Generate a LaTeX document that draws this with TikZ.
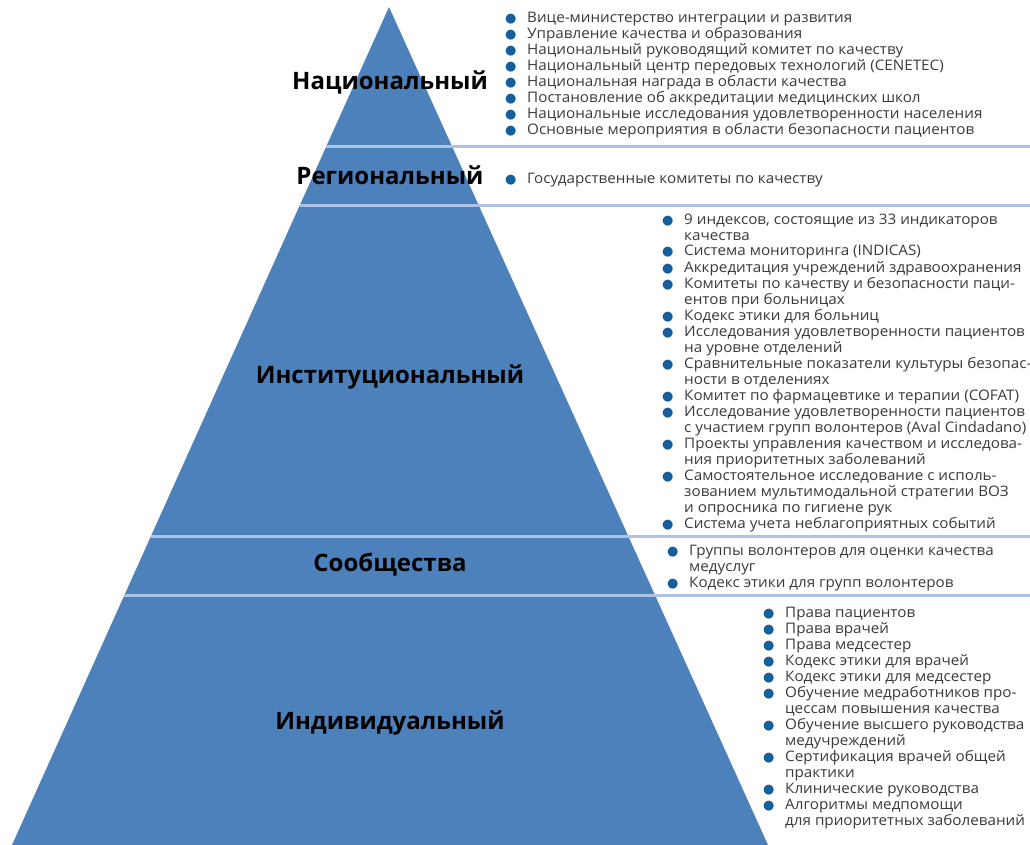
\documentclass[tikz,border=0pt]{standalone}
\usepackage{fontspec}
\usepackage{array}
\usetikzlibrary{calc}
\setmainfont{Open Sans}
\newfontfamily\bodyfont{Open Sans}[FakeStretch=1.05]
\newfontfamily\dejavu{DejaVu Sans}
\definecolor{pyr}{HTML}{4D81BC}
\definecolor{sepline}{HTML}{AEC2E6}
\definecolor{bulc}{HTML}{155E9C}
\definecolor{bodytxt}{HTML}{3A3A3A}
\newcommand{\bu}{\makebox[22pt][l]{\raisebox{0pt}{\color{bulc}\dejavu\fontsize{13}{13}\selectfont ●}}}
\newcommand{\nb}{\makebox[22pt][l]{}}
\newcommand{\lfont}{\bodyfont\fontsize{14.5}{16}\selectfont}
\tikzset{
  lvl/.style={anchor=base, inner sep=0, font=\fontsize{24}{28}\selectfont\bfseries, text=black},
  lst/.style={anchor=base west, inner sep=0, text=bodytxt},
  sep/.style={draw=sepline, line width=3pt}
}
\begin{document}
\begin{tikzpicture}[x=1pt,y=-1pt]
\useasboundingbox (0,0) rectangle (1030,845);
\coordinate (apex) at (389,7);
\coordinate (bl) at (12,845);
\coordinate (br) at (768,845);
\fill[pyr] (apex) -- (br) -- (bl) -- cycle;
% separator lines
\coordinate (s1) at ($(apex)!0.1659!(bl)$);
\coordinate (s2) at ($(apex)!0.2363!(bl)$);
\coordinate (s3) at ($(apex)!0.6313!(bl)$);
\coordinate (s4) at ($(apex)!0.7017!(bl)$);
\coordinate (e1) at (1030,146);
\coordinate (e2) at (1030,205);
\coordinate (e3) at (1030,536);
\coordinate (e4) at (1030,595);
\draw[sep] (s1) -- (s1 -| e1);
\draw[sep] (s2) -- (s2 -| e2);
\draw[sep] (s3) -- (s3 -| e3);
\draw[sep] (s4) -- (s4 -| e4);
% level labels
\node[lvl] (lnat) at (390,90) {Национальный};
\node[lvl] (lreg) at (390,185) {Региональный};
\node[lvl] (linst) at (390,383) {Институциональный};
\node[lvl] (lcomm) at (390,571) {Сообщества};
\node[lvl] (lind) at (390,729) {Индивидуальный};
% lists
\node[lst] (tnat) at (505,23) {\lfont\begin{tabular}[t]{@{}l@{}}
\bu Вице-министерство интеграции и развития\\
\bu Управление качества и образования\\
\bu Национальный руководящий комитет по качеству\\
\bu Национальный центр передовых технологий (CENETEC)\\
\bu Национальная награда в области качества\\
\bu Постановление об аккредитации медицинских школ\\
\bu Национальные исследования удовлетворенности населения\\
\bu Основные мероприятия в области безопасности пациентов
\end{tabular}};
\node[lst] (treg) at (505,184) {\lfont\begin{tabular}[t]{@{}l@{}}
\bu Государственные комитеты по качеству
\end{tabular}};
\node[lst] (tinst) at (662,224) {\lfont\begin{tabular}[t]{@{}l@{}}
\bu 9 индексов, состоящие из 33 индикаторов\\
\nb качества\\
\bu Система мониторинга (INDICAS)\\
\bu Аккредитация учреждений здравоохранения\\
\bu Комитеты по качеству и безопасности паци-\\
\nb ентов при больницах\\
\bu Кодекс этики для больниц\\
\bu Исследования удовлетворенности пациентов\\
\nb на уровне отделений\\
\bu Сравнительные показатели культуры безопас-\\
\nb ности в отделениях\\
\bu Комитет по фармацевтике и терапии (COFAT)\\
\bu Исследование удовлетворенности пациентов\\
\nb с участием групп волонтеров (Aval Cindadano)\\
\bu Проекты управления качеством и исследова-\\
\nb ния приоритетных заболеваний\\
\bu Самостоятельное исследование с исполь-\\
\nb зованием мультимодальной стратегии ВОЗ\\
\nb и опросника по гигиене рук\\
\bu Система учета неблагоприятных событий
\end{tabular}};
\node[lst] (tcomm) at (667,555) {\lfont\begin{tabular}[t]{@{}l@{}}
\bu Группы волонтеров для оценки качества\\
\nb медуслуг\\
\bu Кодекс этики для групп волонтеров
\end{tabular}};
\node[lst] (tind) at (763,617) {\lfont\begin{tabular}[t]{@{}l@{}}
\bu Права пациентов\\
\bu Права врачей\\
\bu Права медсестер\\
\bu Кодекс этики для врачей\\
\bu Кодекс этики для медсестер\\
\bu Обучение медработников про-\\
\nb цессам повышения качества\\
\bu Обучение высшего руководства\\
\nb медучреждений\\
\bu Сертификация врачей общей\\
\nb практики\\
\bu Клинические руководства\\
\bu Алгоритмы медпомощи\\
\nb для приоритетных заболеваний
\end{tabular}};
\end{tikzpicture}
\end{document}
